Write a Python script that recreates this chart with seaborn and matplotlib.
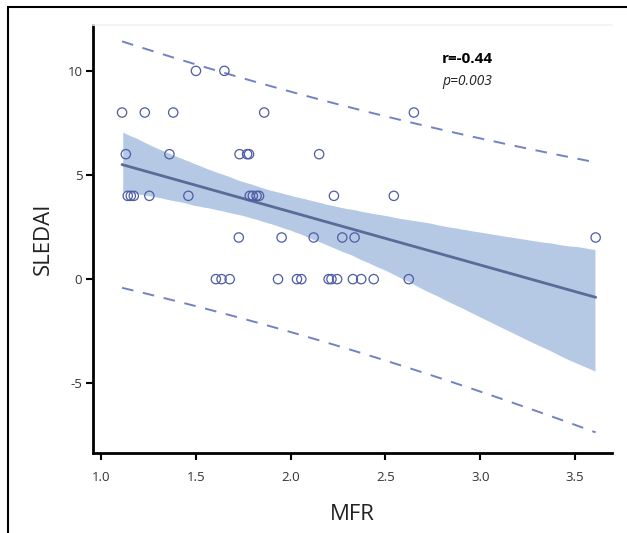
import numpy as np
import pandas as pd
import matplotlib
matplotlib.use("Agg")
import matplotlib.pyplot as plt
from matplotlib.patches import Rectangle
import seaborn as sns

# values
mfr = [
    1.50, 1.65,
    1.11, 1.23, 1.38, 1.86, 2.65,
    1.13, 1.36, 1.73, 1.77, 1.78, 2.15,
    1.14, 1.156, 1.172, 1.254, 1.46, 1.784, 1.80, 1.82, 1.833, 2.228, 2.544,
    1.726, 1.952, 2.121, 2.272, 2.337, 3.609,
    1.605, 1.635, 1.678, 1.933, 2.033, 2.056, 2.20, 2.215, 2.245, 2.328,
    2.372, 2.438, 2.623,
]
sledai = (
    [10] * 2 + [8] * 5 + [6] * 6 + [4] * 11 + [2] * 6 + [0] * 13
)
x_ticks = [1.0, 1.5, 2.0, 2.5, 3.0, 3.5]
y_ticks = [-5, 0, 5, 10]
r_label = "r=-0.44"
p_label = "p=0.003"

POINT_COLOR = "#4e5ca6"
LINE_COLOR = "#5a6b98"
BAND_COLOR = "#b5c9e5"
DASH_COLOR = "#7282c2"

df = pd.DataFrame({"MFR": mfr, "SLEDAI": sledai})

sns.set_theme(style="white")
plt.rcParams["font.family"] = ["Open Sans", "DejaVu Sans"]

fig = plt.figure(figsize=(6.27, 5.33), dpi=100)
ax = fig.add_axes([0.149, 0.150, 0.827, 0.803])

# fitted line with 95% confidence band
sns.regplot(
    data=df, x="MFR", y="SLEDAI", ax=ax, scatter=False, ci=95, seed=3,
    color=LINE_COLOR,
    line_kws={"linewidth": 2, "color": LINE_COLOR, "zorder": 2},
)
for coll in ax.collections:
    coll.set_facecolor(BAND_COLOR)
    coll.set_alpha(1)
    coll.set_zorder(1)

# 95% prediction interval (dashed)
x = np.asarray(mfr)
y = np.asarray(sledai, dtype=float)
n = len(x)
slope, intercept = np.polyfit(x, y, 1)
resid = y - (intercept + slope * x)
s = np.sqrt(np.sum(resid ** 2) / (n - 2))
grid = np.linspace(x.min(), x.max(), 100)
se_pred = s * np.sqrt(1 + 1 / n + (grid - x.mean()) ** 2 / np.sum((x - x.mean()) ** 2))
t_crit = 2.0195
fit = intercept + slope * grid
for sign in (1, -1):
    ax.plot(grid, fit + sign * t_crit * se_pred, linestyle=(0, (6, 5)),
            color=DASH_COLOR, linewidth=1.4, zorder=2)

sns.scatterplot(
    data=df, x="MFR", y="SLEDAI", ax=ax, s=45, marker="o",
    facecolor="none", edgecolor=POINT_COLOR, linewidth=0.9, zorder=3,
)

ax.set_xlim(0.959, 3.695)
ax.set_ylim(-8.35, 12.2)
ax.set_xticks(x_ticks)
ax.set_xticklabels([f"{t:.1f}" for t in x_ticks])
ax.set_yticks(y_ticks)
ax.set_yticklabels([str(t) for t in y_ticks])
ax.tick_params(axis="both", which="major", direction="out", length=5, width=1.5,
               color="black", labelsize=9.5, labelcolor="#333333",
               bottom=True, left=True)
ax.tick_params(axis="x", pad=8)
ax.tick_params(axis="y", pad=3)

for side in ("left", "bottom"):
    ax.spines[side].set_color("black")
    ax.spines[side].set_linewidth(2)
ax.spines["right"].set_visible(False)
ax.spines["top"].set_color("#f2f2f2")
ax.spines["top"].set_linewidth(1.2)

ax.set_xlabel("MFR", fontsize=16, color="#222222", labelpad=14)
ax.set_ylabel("SLEDAI", fontsize=16, color="#222222", labelpad=10)

ax.text(0.672, 0.92, r_label, transform=ax.transAxes, fontsize=11,
        fontweight="bold", color="black", ha="left", va="center")
ax.text(0.672, 0.867, p_label, transform=ax.transAxes, fontsize=10,
        fontstyle="italic", color="#222222", ha="left", va="center")

# outer frame around the figure (left and top edges visible)
fig.patches.append(Rectangle((8 / 627, -0.1), 1.2, 1.1 - 7 / 533,
                             transform=fig.transFigure, fill=False,
                             edgecolor="black", linewidth=1.5))

fig.savefig("out.png", dpi=100)
